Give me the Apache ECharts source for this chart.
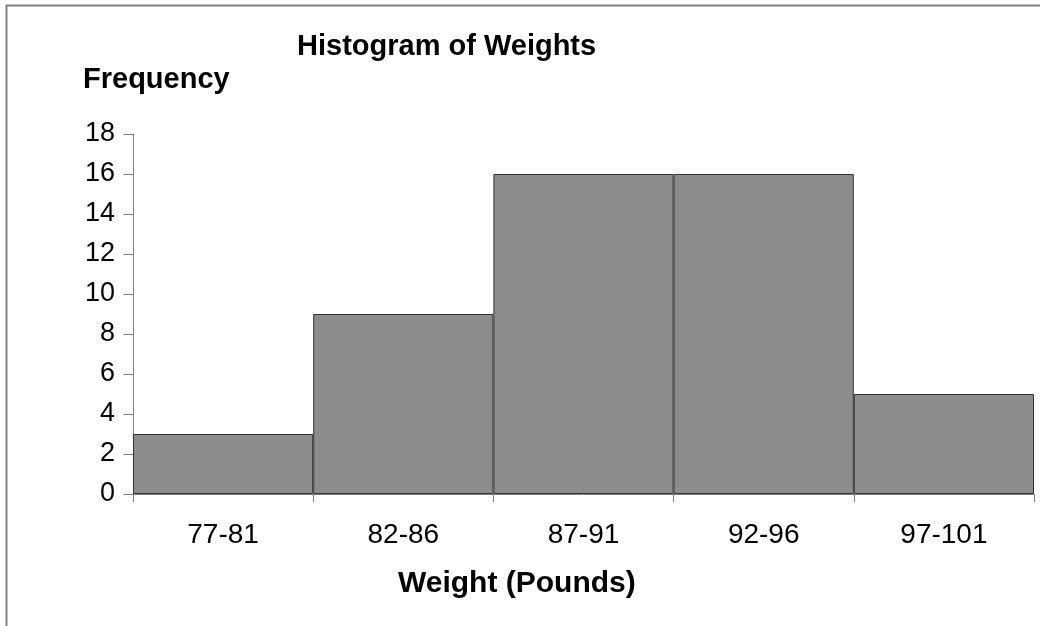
<!DOCTYPE html>
<html><head><meta charset="utf-8">
<script src="https://cdn.jsdelivr.net/npm/echarts@6/dist/echarts.min.js"></script>
<style>html,body{margin:0;padding:0;background:#fff}#c{width:1040px;height:626px}</style>
</head><body><div id="c"></div>
<script>
const categories = ['77-81', '82-86', '87-91', '92-96', '97-101'];
const frequencies = [3, 9, 16, 16, 5];
const yTicks = [0, 2, 4, 6, 8, 10, 12, 14, 16, 18];

const chart = echarts.init(document.getElementById('c'), null, {renderer: 'canvas'});
const font = 'Liberation Sans, Arial, sans-serif';
chart.setOption({
  animation: false,
  backgroundColor: '#fff',
  graphic: [{type: 'rect', shape: {x: 6.5, y: 5.5, width: 1100, height: 700}, style: {fill: 'none', stroke: '#808080', lineWidth: 2}, silent: true}],
  title: [
    {text: 'Histogram of Weights', left: 292, top: 27, textStyle: {fontFamily: font, fontSize: 29, fontWeight: 'bold', color: '#000'}},
    {text: 'Frequency', left: 78, top: 60, textStyle: {fontFamily: font, fontSize: 29, fontWeight: 'bold', color: '#000'}},
    {text: 'Weight (Pounds)', left: 393, top: 564, textStyle: {fontFamily: font, fontSize: 30, fontWeight: 'bold', color: '#000'}}
  ],
  grid: {left: 133, right: 6, top: 134, bottom: 132, containLabel: false},
  xAxis: {
    type: 'category', data: categories,
    axisLine: {lineStyle: {color: '#808080', width: 1}},
    axisTick: {show: true, length: 8, lineStyle: {color: '#808080'}},
    axisLabel: {fontFamily: font, fontSize: 28, color: '#000', margin: 27}
  },
  yAxis: {
    type: 'value', min: 0, max: 18, interval: 2,
    axisLine: {show: true, lineStyle: {color: '#808080', width: 1}},
    axisTick: {show: true, length: 9, lineStyle: {color: '#808080'}},
    splitLine: {show: false},
    axisLabel: {fontFamily: font, fontSize: 27, color: '#000', margin: 18,
      formatter: v => yTicks.includes(v) ? String(v) : ''}
  },
  series: [{
    type: 'bar', data: frequencies, barWidth: '100%', barCategoryGap: 0,
    itemStyle: {color: '#8c8c8c', borderColor: '#333', borderWidth: 1}
  }]
});
</script></body></html>
